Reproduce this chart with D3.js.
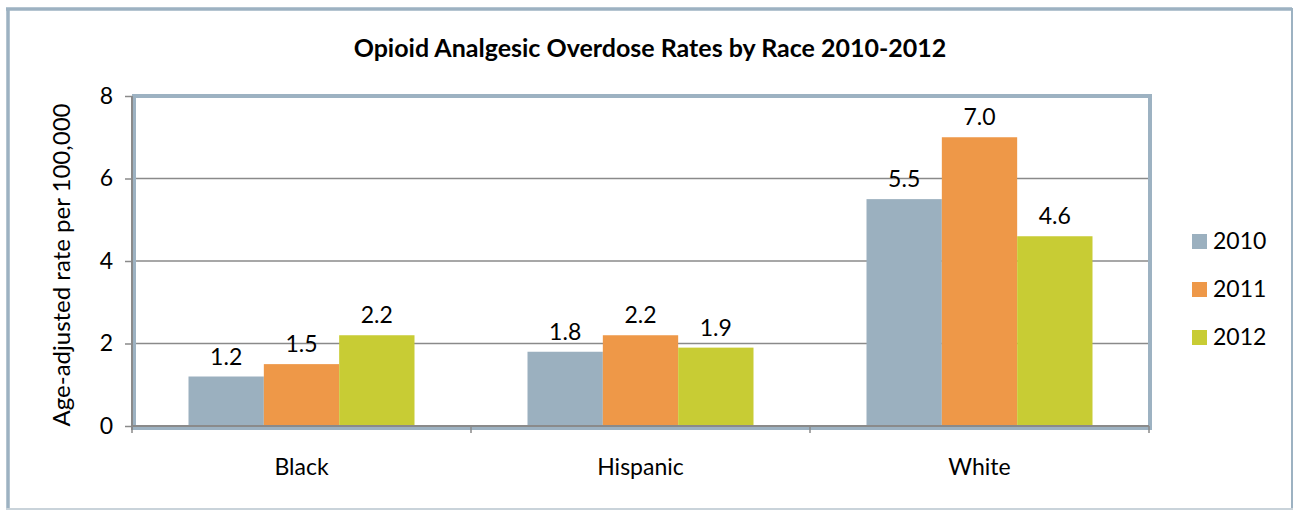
<!DOCTYPE html>
<html>
<head>
<meta charset="utf-8">
<script src="https://cdn.jsdelivr.net/npm/d3@7"></script>
<style>
  html, body { margin: 0; padding: 0; background: #fff; }
  svg text { font-family: Lato, "Open Sans", sans-serif; fill: #000; }
</style>
</head>
<body>
<svg id="chart" width="1294" height="510"></svg>
<script>
// Opioid analgesic overdose rates, age-adjusted per 100,000
const races = ["Black", "Hispanic", "White"];
const years = ["2010", "2011", "2012"];
const rate2010 = [1.2, 1.8, 5.5];
const rate2011 = [1.5, 2.2, 7.0];
const rate2012 = [2.2, 1.9, 4.6];
const yTicks = [0, 2, 4, 6, 8];
const yearColors = ["#9bb0bf", "#ee9848", "#c8cc34"];

const seriesByYear = [rate2010, rate2011, rate2012];
const rows = races.map((r, i) => ({
  race: r,
  values: years.map((y, j) => ({ year: y, value: seriesByYear[j][i] }))
}));

const svg = d3.select("#chart");
const frameColor = "#9db2c2";
const gridColor = "#8a8a8a";

// outer chart border
svg.append("line").attr("x1", 8).attr("x2", 8).attr("y1", 8).attr("y2", 509)
  .attr("stroke", frameColor).attr("stroke-width", 3.5);
svg.append("line").attr("x1", 6).attr("x2", 1292).attr("y1", 9).attr("y2", 9)
  .attr("stroke", frameColor).attr("stroke-width", 3.5);
svg.append("line").attr("x1", 1292).attr("x2", 1292).attr("y1", 8).attr("y2", 509)
  .attr("stroke", frameColor).attr("stroke-width", 2);
svg.append("line").attr("x1", 6).attr("x2", 1293).attr("y1", 509).attr("y2", 509)
  .attr("stroke", "#c9d3da").attr("stroke-width", 2);

const plot = { left: 132, right: 1149, top: 96, bottom: 426 };

const x0 = d3.scaleBand().domain(races).range([plot.left, plot.right]).paddingInner(0).paddingOuter(0);
const x1 = d3.scaleBand().domain(years).range([0, x0.bandwidth()]).paddingInner(0).paddingOuter(0.75);
const y = d3.scaleLinear().domain([0, 8]).range([plot.bottom, plot.top]);

// horizontal gridlines
svg.append("g").selectAll("line").data(yTicks.filter(t => t > 0 && t < 8)).join("line")
  .attr("x1", plot.left).attr("x2", plot.right)
  .attr("y1", d => y(d)).attr("y2", d => y(d))
  .attr("stroke", gridColor).attr("stroke-width", 1.5);

// plot area frame
svg.append("rect")
  .attr("x", plot.left + 2).attr("y", plot.top)
  .attr("width", plot.right - plot.left - 1).attr("height", plot.bottom - plot.top + 2)
  .attr("fill", "none").attr("stroke", frameColor).attr("stroke-width", 4);

// bars
const groups = svg.append("g").selectAll("g").data(rows).join("g")
  .attr("transform", d => `translate(${x0(d.race)},0)`);

groups.selectAll("rect").data(d => d.values).join("rect")
  .attr("x", d => x1(d.year))
  .attr("y", d => y(d.value))
  .attr("width", x1.bandwidth())
  .attr("height", d => y(0) - y(d.value))
  .attr("fill", (d, i) => yearColors[i]);

groups.selectAll("text").data(d => d.values).join("text")
  .attr("x", d => x1(d.year) + x1.bandwidth() / 2)
  .attr("y", d => y(d.value) - 12)
  .attr("text-anchor", "middle")
  .attr("font-size", 23)
  .text(d => d.value.toFixed(1));

// y axis
const yAxis = d3.axisLeft(y).tickValues(yTicks).tickSize(7).tickPadding(12).tickFormat(d3.format("d"));
const gy = svg.append("g").attr("transform", `translate(${plot.left},0)`).call(yAxis);
gy.select(".domain").attr("stroke", gridColor).attr("stroke-width", 2)
  .attr("d", `M0,${plot.top}V${plot.bottom + 4}`);
gy.selectAll(".tick line").attr("stroke", gridColor).attr("stroke-width", 1.5);
gy.selectAll(".tick text").attr("font-size", 23).attr("font-family", "Lato, sans-serif").attr("fill", "#000");

// x axis
const gx = svg.append("g").attr("transform", `translate(0,${plot.bottom})`);
gx.append("line").attr("x1", plot.left).attr("x2", plot.right)
  .attr("y1", 0).attr("y2", 0).attr("stroke", gridColor).attr("stroke-width", 2);
const boundaries = races.map(r => x0(r)).concat([x0(races[races.length - 1]) + x0.bandwidth()]);
gx.selectAll("line.tick").data(boundaries).join("line").attr("class", "tick")
  .attr("x1", d => d).attr("x2", d => d).attr("y1", 0).attr("y2", 7)
  .attr("stroke", gridColor).attr("stroke-width", 1.5);
gx.selectAll("text").data(races).join("text")
  .attr("x", d => x0(d) + x0.bandwidth() / 2)
  .attr("y", 49)
  .attr("text-anchor", "middle")
  .attr("font-size", 23)
  .text(d => d);

// y axis title
svg.append("text")
  .attr("transform", `translate(70,${(plot.top + plot.bottom) / 2 + 4}) rotate(-90)`)
  .attr("text-anchor", "middle")
  .attr("font-size", 24)
  .text("Age-adjusted rate per 100,000");

// title
svg.append("text")
  .attr("x", 650).attr("y", 57)
  .attr("text-anchor", "middle")
  .attr("font-size", 25).attr("font-weight", "bold")
  .text("Opioid Analgesic Overdose Rates by Race 2010-2012");

// legend
const legend = svg.append("g").selectAll("g").data(years).join("g")
  .attr("transform", (d, i) => `translate(1192,${241 + i * 48})`);
legend.append("rect").attr("x", 0).attr("y", -7).attr("width", 15).attr("height", 15)
  .attr("fill", (d, i) => yearColors[i]);
legend.append("text").attr("x", 21).attr("y", 8).attr("font-size", 23).text(d => d);
</script>
</body>
</html>
